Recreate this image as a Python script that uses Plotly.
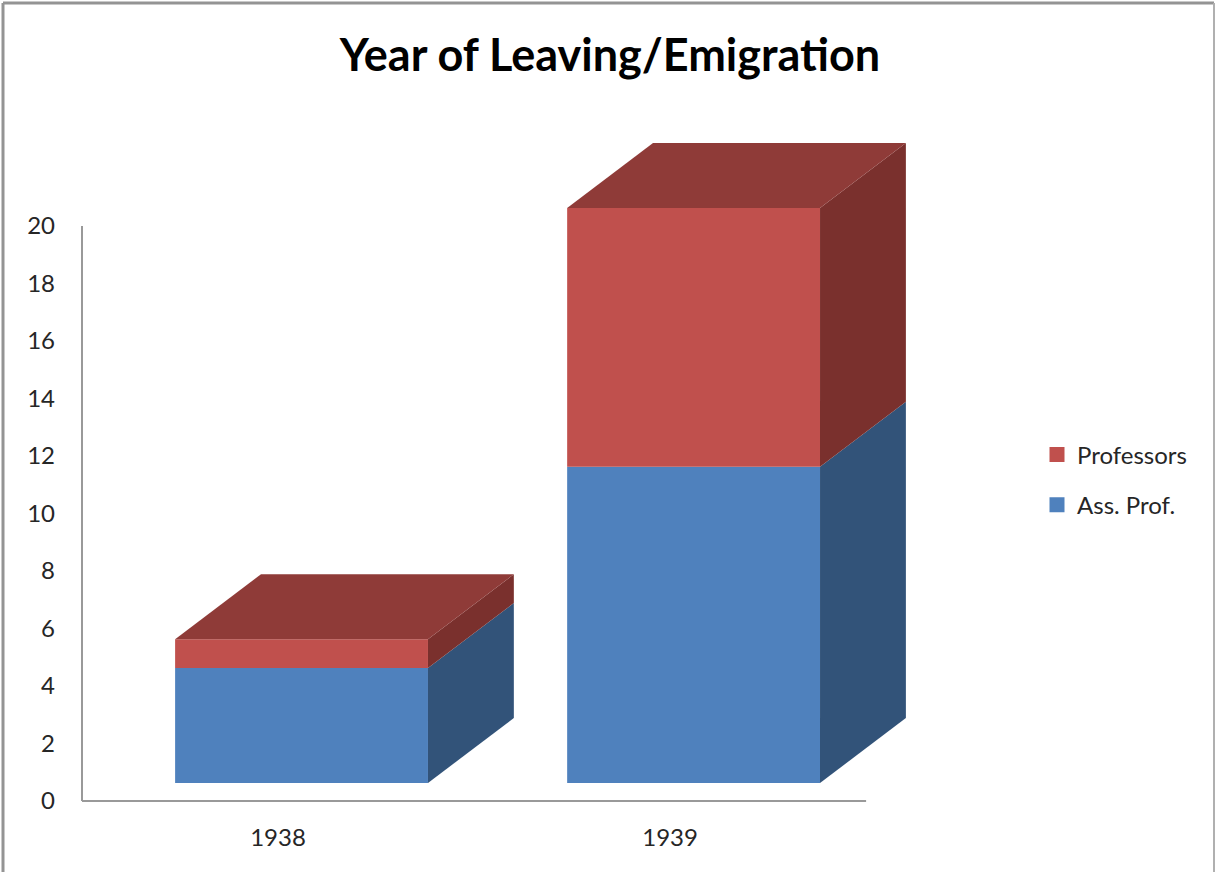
import plotly.graph_objects as go

title = "Year of Leaving/Emigration"
years = ["1938", "1939"]
ass_prof = [4, 11]
professors = [1, 9]
y_ticks = list(range(0, 21, 2))

FONT = "Lato, Carlito, Calibri, sans-serif"
TEXT = "#262626"
AXIS = "#999999"
BLUE = dict(front="#4f81bd", side="#325379")
RED = dict(front="#c0504d", side="#7a302d", top="#8f3b38")

# 3-D look of the bars, expressed in axis units
BAR_W = 0.645
BAR_SHIFT = 0.06
FLOOR = 0.626
DEPTH_X = 0.219
DEPTH_Y = 2.26

fig = go.Figure()


def poly(xs, ys, color):
    fig.add_trace(go.Scatter(x=xs, y=ys, mode="lines", fill="toself", fillcolor=color,
                             line=dict(width=0, color=color), showlegend=False,
                             hoverinfo="skip"))


positions = list(range(len(years)))
for i in positions:
    left = i + BAR_SHIFT - BAR_W / 2
    right = i + BAR_SHIFT + BAR_W / 2
    b0 = FLOOR
    b1 = FLOOR + ass_prof[i]
    b2 = b1 + professors[i]
    # side faces
    poly([right, right + DEPTH_X, right + DEPTH_X, right],
         [b0, b0 + DEPTH_Y, b1 + DEPTH_Y, b1], BLUE["side"])
    poly([right, right + DEPTH_X, right + DEPTH_X, right],
         [b1, b1 + DEPTH_Y, b2 + DEPTH_Y, b2], RED["side"])
    # top face
    poly([left, left + DEPTH_X, right + DEPTH_X, right],
         [b2, b2 + DEPTH_Y, b2 + DEPTH_Y, b2], RED["top"])

# front faces
fig.add_trace(go.Bar(x=[p + BAR_SHIFT for p in positions], y=ass_prof,
                     base=[FLOOR] * len(years), width=BAR_W,
                     marker=dict(color=BLUE["front"], line=dict(width=0)),
                     showlegend=False, name="Ass. Prof."))
fig.add_trace(go.Bar(x=[p + BAR_SHIFT for p in positions], y=professors,
                     base=[FLOOR + a for a in ass_prof], width=BAR_W,
                     marker=dict(color=RED["front"], line=dict(width=0)),
                     showlegend=False, name="Professors"))

# axis lines
fig.add_trace(go.Scatter(x=[-0.5, 1.5], y=[0, 0], mode="lines",
                         line=dict(color=AXIS, width=2), showlegend=False, hoverinfo="skip"))
fig.add_trace(go.Scatter(x=[-0.5, -0.5], y=[0, 20], mode="lines",
                         line=dict(color=AXIS, width=2), showlegend=False, hoverinfo="skip"))

# legend entries, listed top to bottom
fig.add_trace(go.Scatter(x=[None], y=[None], mode="markers", name="Professors",
                         legendgroup="b",
                         marker=dict(symbol="square", size=15, color=RED["front"])))
fig.add_trace(go.Scatter(x=[None], y=[None], mode="markers", name="Ass. Prof.",
                         legendgroup="a",
                         marker=dict(symbol="square", size=15, color=BLUE["front"])))

PLOT_L, PLOT_W = 72, 858
PLOT_B, PLOT_H = 815, 685


def px(v):
    return (v - PLOT_L) / PLOT_W


def py(v):
    return (PLOT_B - v) / PLOT_H


frame = dict(color="#949494", width=3)
fig.update_layout(
    width=1215, height=872, autosize=False,
    margin=dict(l=PLOT_L, r=1215 - PLOT_L - PLOT_W, t=130, b=872 - PLOT_B),
    paper_bgcolor="white", plot_bgcolor="white",
    barmode="overlay",
    title=dict(text=f"<b>{title}</b>", x=610 / 1215, xanchor="center", y=1 - 55 / 872,
               yanchor="middle", font=dict(family=FONT, size=45, color="#000000")),
    font=dict(family=FONT, size=24, color=TEXT),
    xaxis=dict(range=[-0.5255, 1.663], tickmode="array", tickvals=positions, ticktext=years,
               showgrid=False, zeroline=False, showline=False, ticks="", ticklen=0,
               ticklabelstandoff=6,
               tickfont=dict(family=FONT, size=24, color=TEXT)),
    yaxis=dict(range=[-0.487, 23.34], tickmode="array", tickvals=y_ticks,
               showgrid=False, zeroline=False, showline=False, ticks="",
               ticklabelstandoff=16,
               tickfont=dict(family=FONT, size=24, color=TEXT)),
    legend=dict(x=px(1037), xanchor="left",
                y=py(480), yanchor="middle",
                traceorder="grouped", tracegroupgap=16,
                font=dict(family=FONT, size=24, color=TEXT),
                bgcolor="rgba(0,0,0,0)"),
    shapes=[
        dict(type="line", xref="paper", yref="paper", x0=px(3), x1=px(3),
             y0=py(872), y1=py(3), line=frame),
        dict(type="line", xref="paper", yref="paper", x0=px(3), x1=px(1214),
             y0=py(3), y1=py(3), line=frame),
        dict(type="line", xref="paper", yref="paper", x0=px(1214), x1=px(1214),
             y0=py(872), y1=py(3), line=dict(color="#b0b0b0", width=2)),
    ],
)

fig.write_html("out.html", config=dict(displayModeBar=False),
               post_script="document.body.style.margin='0';document.documentElement.style.overflow='hidden';")
